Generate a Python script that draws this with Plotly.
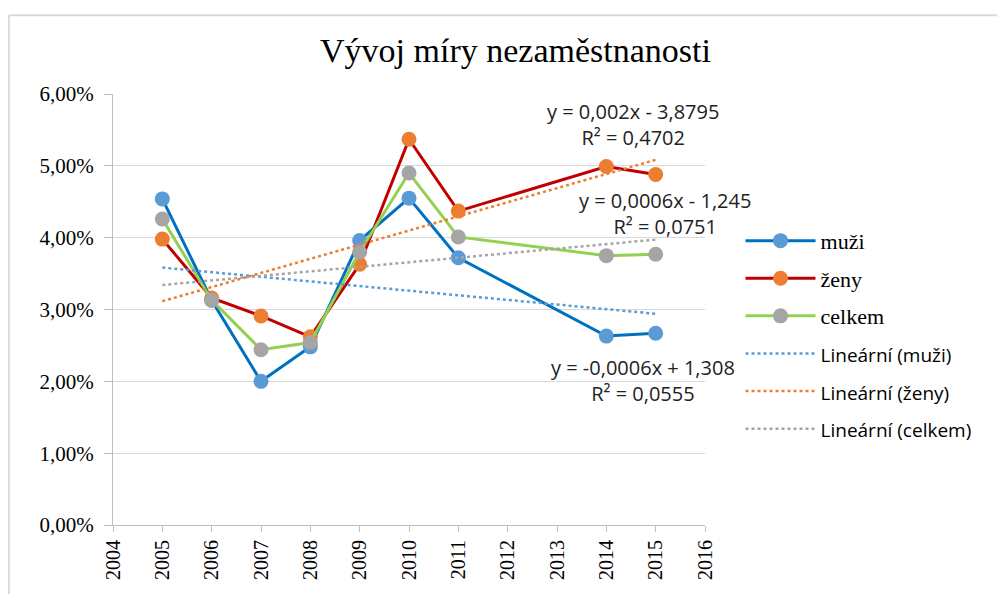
import numpy as np
import plotly.graph_objects as go

# roky a míra nezaměstnanosti (podíl)
roky = [2005, 2006, 2007, 2008, 2009, 2010, 2011, 2014, 2015]
muzi = [0.0454, 0.0313, 0.0200, 0.0248, 0.0396, 0.0455, 0.0372, 0.0263, 0.0267]
zeny = [0.0398, 0.0316, 0.0291, 0.0262, 0.0363, 0.0537, 0.0437, 0.0499, 0.0488]
celkem = [0.0426, 0.0313, 0.0244, 0.0254, 0.0380, 0.0490, 0.0401, 0.0375, 0.0377]

rovnice = [
    ("y = 0,002x - 3,8795<br>R² = 0,4702", 2014.54, 0.0558),
    ("y = 0,0006x - 1,245<br>R² = 0,0751", 2015.19, 0.0433),
    ("y = -0,0006x + 1,308<br>R² = 0,0555", 2014.74, 0.0201),
]

SERIF = "Liberation Serif"
SANS = "Open Sans"

fig = go.Figure()

serie = [
    ("muži", muzi, "#0070C0", "#5B9BD5"),
    ("ženy", zeny, "#C00000", "#ED7D31"),
    ("celkem", celkem, "#92D050", "#A5A5A5"),
]
for nazev, hodnoty, barva, znacka in serie:
    fig.add_trace(go.Scatter(
        x=roky, y=hodnoty, name=nazev, mode="lines+markers", legendgroup=nazev,
        line=dict(color=barva, width=3),
        marker=dict(color=znacka, size=15),
    ))

# lineární trendy (Excel)
for nazev, hodnoty, barva, znacka in serie:
    k, q = np.polyfit(roky, hodnoty, 1)
    xs = [roky[0], roky[-1]]
    fig.add_trace(go.Scatter(
        x=xs, y=[k * v + q for v in xs], mode="lines", legendgroup="trend " + nazev,
        name=f"<span style='font-family:{SANS}; font-size:19px'>Lineární ({nazev})</span>",
        line=dict(color=znacka, width=2.5, dash="dot"),
    ))

for text, x, y in rovnice:
    fig.add_annotation(x=x, y=y, text=text, showarrow=False,
                       font=dict(family=SANS, size=20, color="#222"), align="center")

fig.update_layout(
    width=1005, height=594,
    margin=dict(l=105, r=308, t=86, b=77),
    paper_bgcolor="white", plot_bgcolor="white",
    separators=", ",
    title=dict(text="Vývoj míry nezaměstnanosti", x=0.505, xanchor="center",
               y=0.929, yanchor="middle",
               font=dict(family=SERIF, size=34, color="black")),
    legend=dict(x=1.06, y=0.708, xanchor="left", yanchor="top",
                font=dict(family=SERIF, size=22, color="black"),
                itemwidth=70, tracegroupgap=6),
    font=dict(family=SERIF, color="black"),
    shapes=[
        dict(type="line", xref="paper", yref="paper", x0=-0.176, x1=1.6, y0=1.183, y1=1.183,
             line=dict(color="#D9D9D9", width=2)),
        dict(type="line", xref="paper", yref="paper", x0=-0.176, x1=-0.176, y0=1.183, y1=-0.2,
             line=dict(color="#D9D9D9", width=2)),
    ],
)

fig.update_xaxes(range=[2004, 2016], dtick=1, tickangle=-90, showgrid=False,
                 showline=True, linecolor="#BFBFBF", linewidth=1,
                 ticks="outside", ticklen=6, tickcolor="#BFBFBF",
                 tickfont=dict(family=SERIF, size=20, color="black"), zeroline=False)
fig.update_yaxes(range=[0, 0.06], dtick=0.01, tickformat=".2%", showgrid=True,
                 gridcolor="#D9D9D9", showline=True, linecolor="#BFBFBF",
                 ticks="outside", ticklen=8, tickcolor="#BFBFBF", ticklabelstandoff=6,
                 tickfont=dict(family=SERIF, size=21, color="black"), zeroline=False)

fig.write_html("out.html")
